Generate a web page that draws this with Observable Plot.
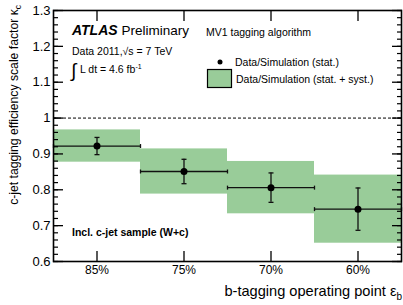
<!DOCTYPE html>
<html><head><meta charset="utf-8">
<script src="https://cdn.jsdelivr.net/npm/d3@7"></script>
<script src="https://cdn.jsdelivr.net/npm/@observablehq/plot@0.6"></script>
<style>
body{margin:0;background:#fff;}
#chart{position:relative;width:403px;height:305px;}
svg{display:block;}
</style></head><body><div id="chart"></div>
<script>
const categories = ["85%", "75%", "70%", "60%"];
const scaleFactor = [0.922, 0.851, 0.806, 0.746];
const statError = [0.024, 0.034, 0.041, 0.059];
const totalError = [0.045, 0.063, 0.073, 0.095];
const yMajorTicks = [0.6, 0.7, 0.8, 0.9, 1, 1.1, 1.2, 1.3];
const yTickLabels = ["0.6", "0.7", "0.8", "0.9", "1", "1.1", "1.2", "1.3"];
const yMinorTicks = d3.range(60, 131, 2).map(v => v / 100);

const F = "'Liberation Sans', Arial, Helvetica, sans-serif";
const rows = categories.map((c, i) => ({c, i, sf: scaleFactor[i], stat: statError[i], tot: totalError[i]}));
const xTicks = rows.map(d => d.i + 0.5);
const hline = {draw(ctx, size) {const r = Math.sqrt(size / Math.PI); ctx.moveTo(-r, 0); ctx.lineTo(r, 0);}};
const vline = {draw(ctx, size) {const r = Math.sqrt(size / Math.PI); ctx.moveTo(0, -r); ctx.lineTo(0, r);}};
const blank = () => "";

const plot = Plot.plot({
  width: 403, height: 305,
  marginLeft: 53, marginRight: 2, marginTop: 10, marginBottom: 44,
  style: {fontFamily: F, fontSize: "13px", color: "#000", background: "#fff"},
  x: {domain: [0, 4]},
  y: {domain: [0.6, 1.3]},
  marks: [
    Plot.rect(rows, {x1: "i", x2: d => d.i + 1, y1: d => d.sf - d.tot, y2: d => d.sf + d.tot, fill: "#99cc99"}),
    Plot.ruleY([1], {stroke: "#000", strokeDasharray: "3,2", strokeWidth: 1}),
    Plot.ruleY(rows, {x1: "i", x2: d => d.i + 1, y: "sf", stroke: "#111", strokeWidth: 1.3}),
    Plot.dot(rows.flatMap(d => [{x: d.i, y: d.sf}, {x: d.i + 1, y: d.sf}]), {x: "x", y: "y", symbol: vline, r: 2, stroke: "#111", strokeWidth: 1.3}),
    Plot.ruleX(rows, {x: d => d.i + 0.5, y1: d => d.sf - d.stat, y2: d => d.sf + d.stat, stroke: "#111", strokeWidth: 1.3}),
    Plot.dot(rows.flatMap(d => [{x: d.i + 0.5, y: d.sf - d.stat}, {x: d.i + 0.5, y: d.sf + d.stat}]), {x: "x", y: "y", symbol: hline, r: 2.5, stroke: "#111", strokeWidth: 1.3}),
    Plot.dot(rows, {x: d => d.i + 0.5, y: "sf", r: 3.5, fill: "#000", stroke: null}),
    Plot.axisY({anchor: "left", ticks: yMajorTicks, tickSize: -10, tickPadding: 13, tickFormat: d => yTickLabels[yMajorTicks.indexOf(d)], label: null, fontSize: 13, strokeWidth: 1.3}),
    Plot.axisY({anchor: "left", ticks: yMinorTicks, tickSize: -5, tickFormat: blank, label: null, strokeWidth: 1.2}),
    Plot.axisY({anchor: "right", ticks: yMajorTicks, tickSize: -10, tickFormat: blank, label: null, strokeWidth: 1.3}),
    Plot.axisY({anchor: "right", ticks: yMinorTicks, tickSize: -5, tickFormat: blank, label: null, strokeWidth: 1.2}),
    Plot.axisX({anchor: "bottom", ticks: xTicks, tickSize: -10, tickPadding: 14, tickFormat: d => categories[xTicks.indexOf(d)], label: null, fontSize: 12, strokeWidth: 1.3}),
    Plot.axisX({anchor: "top", ticks: xTicks, tickSize: -10, tickFormat: blank, label: null, strokeWidth: 1.3}),
    Plot.frame({stroke: "#000", strokeWidth: 1.6})
  ]
});
document.getElementById("chart").appendChild(plot);

const svg = d3.select(plot);
function txt(x, y, size, parts, anchor = "start", transform = null) {
  const t = svg.append("text").attr("x", x).attr("y", y).attr("font-family", F)
    .attr("font-size", size).attr("fill", "#000").attr("text-anchor", anchor);
  if (transform) t.attr("transform", transform);
  for (const p of parts) {
    const s = t.append("tspan").text(p.t);
    if (p.w) s.attr("font-weight", p.w);
    if (p.st) s.attr("font-style", p.st);
    if (p.dy) s.attr("dy", p.dy);
    if (p.dx) s.attr("dx", p.dx);
    if (p.fs) s.attr("font-size", p.fs);
  }
  return t;
}
// ATLAS label
txt(72, 35, 14, [{t: "ATLAS", w: "bold", st: "italic"}, {t: " Preliminary", fs: 13.5}]);
txt(72, 55, 10.5, [{t: "Data 2011,"}, {t: "\u221As"}, {t: " = 7 TeV"}]);
txt(71, 77, 19, [{t: "\u222B"}]);
txt(80, 73, 10.5, [{t: "L dt = 4.6 fb"}, {t: "-1", fs: 7, dy: -4}]);
// legend
txt(206, 36, 10.5, [{t: "MV1 tagging algorithm"}]);
svg.append("circle").attr("cx", 220).attr("cy", 62).attr("r", 2.5).attr("fill", "#000");
txt(235, 66, 10.5, [{t: "Data/Simulation (stat.)"}]);
svg.append("rect").attr("x", 207.5).attr("y", 69.5).attr("width", 24).attr("height", 18)
  .attr("fill", "#99cc99").attr("stroke", "#000").attr("stroke-width", 1.2);
txt(236, 83, 10.5, [{t: "Data/Simulation (stat. + syst.)"}]);
// sample label
txt(72, 236, 10.5, [{t: "Incl. c-jet sample (W+c)", w: "bold"}]);
// axis titles
txt(0, 0, 12.2, [{t: "c-jet tagging efficiency scale factor \u03BA"}, {t: "c", fs: 8.5, dy: 3}], "end", "translate(17.5,5) rotate(-90)");
txt(402, 296, 14.6, [{t: "b-tagging operating point \u03B5"}, {t: "b", fs: 10, dy: 4}], "end");
</script></body></html>
